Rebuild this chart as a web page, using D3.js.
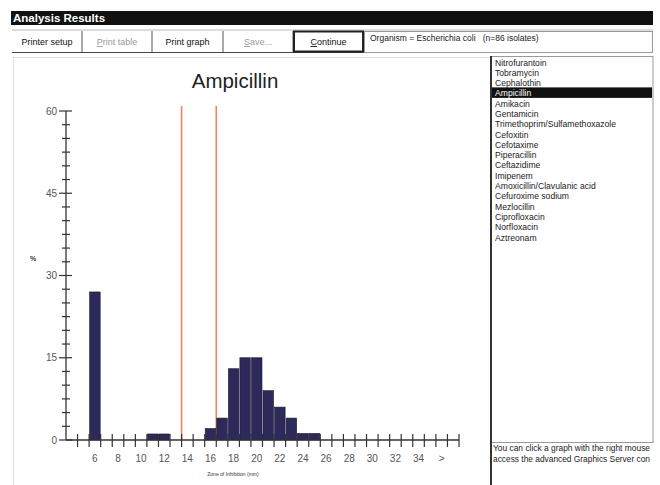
<!DOCTYPE html>
<html>
<head>
<meta charset="utf-8">
<script src="https://cdn.jsdelivr.net/npm/d3@7"></script>
<style>
  body { margin: 0; background: #fff; }
  svg text { font-family: "Liberation Sans", Arial, sans-serif; }
</style>
</head>
<body>
<div id="chart"></div>
<script>
// zone diameters (mm) and % of isolates
const zones = [6, 11, 12, 16, 17, 18, 19, 20, 21, 22, 23, 24, 25]
const percents = [27, 1.1, 1.1, 2.1, 4, 13, 15, 15, 9, 6, 4, 1.2, 1.2]
const breakpoints = [13.5, 16.5]
const yTicks = [0, 15, 30, 45, 60]
const xLabelPos = [6, 8, 10, 12, 14, 16, 18, 20, 22, 24, 26, 28, 30, 32, 34, 36]
const xLabelText = ["6", "8", "10", "12", "14", "16", "18", "20", "22", "24", "26", "28", "30", "32", "34", ">"]
const buttons = ["Printer setup", "Print table", "Print graph", "Save...", "Continue"]
const buttonEnabled = [true, false, true, false, true]
const antibiotics = [
  "Nitrofurantoin", "Tobramycin", "Cephalothin", "Ampicillin", "Amikacin", "Gentamicin",
  "Trimethoprim/Sulfamethoxazole", "Cefoxitin", "Cefotaxime", "Piperacillin", "Ceftazidime",
  "Imipenem", "Amoxicillin/Clavulanic acid", "Cefuroxime sodium", "Mezlocillin",
  "Ciprofloxacin", "Norfloxacin", "Aztreonam"
]
const selected = "Ampicillin"
const hintLines = ["You can click a graph with the right mouse", "access the advanced Graphics Server con"]

const width = 660,
  height = 485

const svg = d3.select("#chart").append("svg").attr("width", width).attr("height", height)

// Window title bar
svg.append("rect").attr("x", 11).attr("y", 11).attr("width", 642).attr("height", 14).attr("fill", "#111")
svg.append("text").attr("x", 13).attr("y", 22).attr("fill", "#fff").attr("font-size", 11.5)
  .attr("font-weight", "bold").text("Analysis Results")

// Button row
const btnEdges = [12, 82, 152, 223, 293, 364]
svg.append("line").attr("x1", 12).attr("x2", 653).attr("y1", 30).attr("y2", 30).attr("stroke", "#bbb")
svg.append("line").attr("x1", 12).attr("x2", 364).attr("y1", 52.5).attr("y2", 52.5).attr("stroke", "#444")
buttons.forEach((b, i) => {
  const x0 = btnEdges[i], x1 = btnEdges[i + 1]
  if (i > 0) svg.append("line").attr("x1", x0).attr("x2", x0).attr("y1", 31).attr("y2", 52)
    .attr("stroke", "#555").attr("stroke-width", 1)
  const t = svg.append("text").attr("x", (x0 + x1) / 2).attr("y", 45).attr("text-anchor", "middle")
    .attr("font-size", 9).attr("fill", buttonEnabled[i] ? "#111" : "#999")
  if (i === 1 || i === 3 || i === 4) {
    t.append("tspan").attr("text-decoration", "underline").text(b[0])
    t.append("tspan").text(b.slice(1))
  } else t.text(b)
})
// Continue button border
svg.append("rect").attr("x", 294).attr("y", 31.5).attr("width", 69).attr("height", 20)
  .attr("fill", "none").attr("stroke", "#222").attr("stroke-width", 2)
// Organism box
svg.append("rect").attr("x", 364.5).attr("y", 31.5).attr("width", 288).attr("height", 21)
  .attr("fill", "none").attr("stroke", "#999")
svg.append("text").attr("x", 370).attr("y", 41).attr("font-size", 8.5).attr("fill", "#222")
  .attr("xml:space", "preserve").text("Organism = Escherichia coli   (n=86 isolates)")

// Chart panel border
svg.append("line").attr("x1", 13).attr("x2", 490).attr("y1", 57.5).attr("y2", 57.5).attr("stroke", "#ddd")
svg.append("line").attr("x1", 13.5).attr("x2", 13.5).attr("y1", 57).attr("y2", 485).attr("stroke", "#ddd")

// Scales
const x = d3.scaleLinear().domain([3.5, 37.5]).range([66, 459])
const y = d3.scaleLinear().domain([0, 60]).range([440, 111])

svg.append("text").attr("x", 235).attr("y", 88).attr("text-anchor", "middle")
  .attr("font-size", 20.5).attr("fill", "#222").text(selected)

// Breakpoint lines
svg.selectAll(".bp").data(breakpoints).enter().append("line")
  .attr("x1", (d) => x(d)).attr("x2", (d) => x(d))
  .attr("y1", 106).attr("y2", y(0))
  .attr("stroke", "#f2845c").attr("stroke-width", 1.6)

// Bars
svg.selectAll(".bar").data(zones).enter().append("rect")
  .attr("x", (d) => x(d - 0.5) + 0.5)
  .attr("width", (d) => x(d + 0.5) - x(d - 0.5) - 1)
  .attr("y", (d, i) => y(percents[i]))
  .attr("height", (d, i) => y(0) - y(percents[i]))
  .attr("fill", "#2d2958")
  .attr("stroke", "#1e1b40").attr("stroke-width", 0.6)

// Y axis
const axisColor = "#333"
svg.append("line").attr("x1", 66).attr("x2", 66).attr("y1", y(60)).attr("y2", y(0))
  .attr("stroke", axisColor).attr("stroke-width", 1.3)
const minor = d3.range(0, 60.01, 2.5)
svg.selectAll(".ymin").data(minor).enter().append("line")
  .attr("x1", (d) => (d % 15 === 0 ? 59 : 62)).attr("x2", (d) => (d % 15 === 0 ? 72 : 70))
  .attr("y1", (d) => y(d)).attr("y2", (d) => y(d))
  .attr("stroke", axisColor).attr("stroke-width", 1.2)
svg.selectAll(".ylab").data(yTicks).enter().append("text")
  .attr("x", 57).attr("y", (d) => y(d) + 3.5).attr("text-anchor", "end")
  .attr("font-size", 10).attr("fill", "#555").text((d) => d)
svg.append("text").attr("x", 33).attr("y", 261).attr("text-anchor", "middle")
  .attr("font-size", 7).attr("font-weight", "bold").attr("fill", "#333").text("%")

// X axis
svg.append("line").attr("x1", 66).attr("x2", 459).attr("y1", y(0)).attr("y2", y(0))
  .attr("stroke", axisColor).attr("stroke-width", 1.3)
const edges = d3.range(4.5, 37.51, 1)
svg.selectAll(".xt").data(edges).enter().append("line")
  .attr("x1", (d) => x(d)).attr("x2", (d) => x(d))
  .attr("y1", y(0) - 6).attr("y2", y(0) + 7)
  .attr("stroke", axisColor).attr("stroke-width", 1.2)
svg.selectAll(".xlab").data(xLabelPos).enter().append("text")
  .attr("x", (d) => x(d)).attr("y", 462).attr("text-anchor", "middle")
  .attr("font-size", 10).attr("fill", "#555").text((d, i) => xLabelText[i])
svg.append("text").attr("x", 233).attr("y", 476).attr("text-anchor", "middle")
  .attr("font-size", 5).attr("fill", "#333").text("Zone of Inhibition (mm)")

// Antibiotic list box
svg.append("rect").attr("x", 491).attr("y", 56.5).attr("width", 162).attr("height", 386)
  .attr("fill", "#fff").attr("stroke", "#999")
svg.append("line").attr("x1", 491).attr("x2", 491).attr("y1", 56).attr("y2", 485)
  .attr("stroke", "#333").attr("stroke-width", 2)
const rowY = d3.scaleLinear().domain([0, antibiotics.length - 1]).range([62, 237])
svg.selectAll(".sel").data(antibiotics.filter((a) => a === selected)).enter().append("rect")
  .attr("x", 492).attr("width", 160).attr("y", (d) => rowY(antibiotics.indexOf(d)) - 5.5).attr("height", 10.5)
  .attr("fill", "#111")
svg.selectAll(".abx").data(antibiotics).enter().append("text")
  .attr("x", 495).attr("y", (d, i) => rowY(i) + 3.5)
  .attr("font-size", 8.6).attr("fill", (d) => (d === selected ? "#fff" : "#222"))
  .text((d) => d)

// Hint text under the list
svg.selectAll(".hint").data(hintLines).enter().append("text")
  .attr("x", 493).attr("y", (d, i) => 451 + i * 11)
  .attr("font-size", 8.6).attr("fill", "#222")
  .attr("textLength", 157).attr("lengthAdjust", "spacingAndGlyphs")
  .text((d) => d)
</script>
</body>
</html>
